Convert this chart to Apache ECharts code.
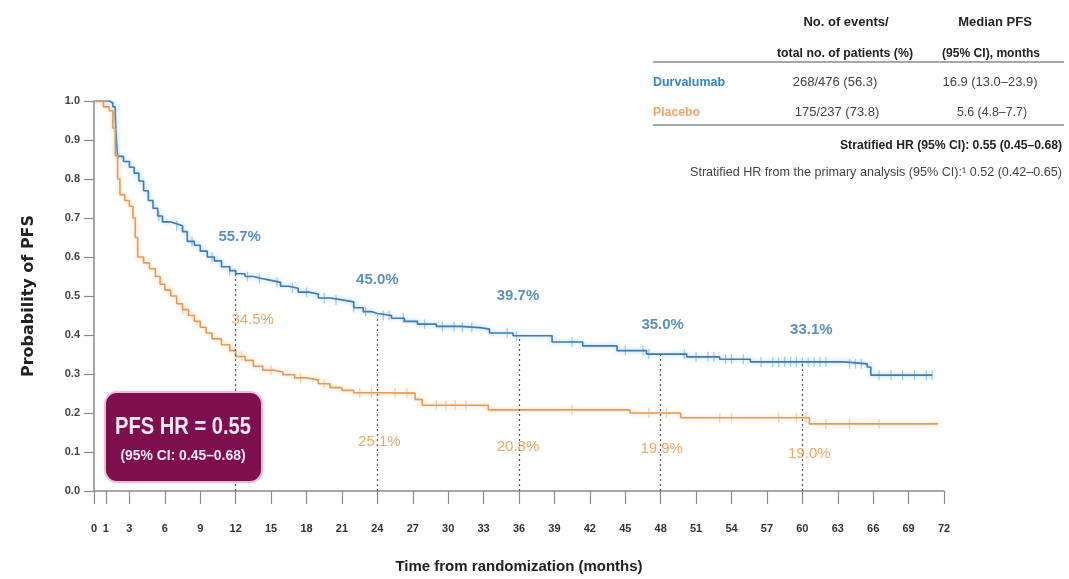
<!DOCTYPE html>
<html>
<head>
<meta charset="utf-8">
<script src="https://cdn.jsdelivr.net/npm/echarts@6/dist/echarts.min.js"></script>
<style>
html,body{margin:0;padding:0;background:#fff;}
#chart{width:1069px;height:579px;}
</style>
</head>
<body>
<div id="chart"></div>
<script>
// ---- Data ----
const timeTicks = [0,1,3,6,9,12,15,18,21,24,27,30,33,36,39,42,45,48,51,54,57,60,63,66,69,72];
const landmarks = [12,24,36,48,60];
const durvaPct = [55.7,45.0,39.7,35.0,33.1];
const placeboPct = [34.5,25.1,20.8,19.9,19.0];

// KM steps: [time (months), survival after event]
const durvaSteps = [[0,1.0],[1.3,0.995],[1.6,0.985],[1.8,0.96],[1.9,0.90],[2.0,0.858],[2.5,0.845],[3.0,0.83],[3.4,0.815],[3.8,0.795],[4.2,0.77],[4.6,0.745],[5.0,0.725],[5.4,0.705],[5.8,0.69],[6.5,0.685],[7.0,0.68],[7.5,0.665],[7.9,0.64],[8.5,0.63],[9.0,0.615],[9.6,0.60],[10.2,0.59],[10.8,0.575],[11.5,0.565],[12.0,0.557],[12.8,0.55],[13.5,0.545],[14.2,0.54],[15.0,0.535],[15.8,0.525],[16.5,0.52],[17.3,0.51],[18.2,0.505],[19.0,0.495],[20.0,0.49],[21.0,0.485],[22.0,0.47],[22.8,0.46],[23.5,0.455],[24.0,0.45],[25.2,0.443],[26.3,0.435],[27.4,0.428],[29.0,0.422],[31.0,0.419],[32.7,0.415],[33.5,0.405],[35.5,0.398],[38.8,0.382],[41.4,0.372],[44.3,0.36],[46.8,0.351],[50.2,0.344],[53.0,0.338],[55.6,0.331],[63.5,0.326],[65.5,0.318],[65.8,0.297],[71.0,0.297]];
const placeboSteps = [[0,1.0],[0.8,0.985],[1.3,0.975],[1.6,0.93],[1.8,0.86],[2.0,0.80],[2.2,0.76],[2.6,0.745],[3.0,0.73],[3.3,0.70],[3.5,0.65],[3.7,0.60],[4.2,0.585],[4.7,0.57],[5.2,0.55],[5.6,0.53],[6.0,0.515],[6.5,0.50],[7.0,0.48],[7.5,0.465],[8.0,0.45],[8.5,0.435],[9.0,0.42],[9.5,0.405],[10.0,0.39],[10.8,0.375],[11.5,0.36],[12.0,0.345],[12.8,0.335],[13.5,0.32],[14.3,0.31],[15.2,0.305],[16.0,0.298],[17.0,0.29],[18.0,0.285],[19.0,0.275],[20.0,0.265],[21.0,0.258],[22.0,0.252],[24.5,0.251],[27.2,0.235],[27.8,0.22],[33.4,0.208],[45.4,0.20],[49.7,0.188],[60.6,0.172],[71.5,0.172]];

// censoring times (months)
const durvaCensor = [5.5,7.0,8.3,10.0,11.5,13.0,14.0,15.5,16.8,18.0,19.5,20.5,22.0,23.0,24.5,25.0,26.2,28.0,29.5,30.5,31.2,32.0,35.0,35.8,40.5,45.0,46.5,47.0,50.0,51.0,52.0,52.5,53.5,54.0,55.0,56.5,57.5,58.0,58.5,59.0,59.5,60.0,60.5,61.0,61.5,62.0,64.0,64.5,65.0,66.5,67.5,68.5,69.5,70.5,71.0];
const placeboCensor = [7.5,12.5,15.0,17.5,19.5,22.5,23.5,25.5,26.5,29.0,29.8,30.6,31.5,40.5,47.0,48.5,53.0,54.0,58.0,59.5,60.3,62.0,64.0,66.5];

// ---- helpers ----
function survAt(steps, t){ let s = steps[0][1]; for (const [x,y] of steps){ if (x <= t) s = y; } return s; }

const FONT = '"Liberation Sans",Arial,sans-serif';
const BLUE_LINE = '#3d7db4', BLUE_TXT = '#2f74b0', BLUE_CENS = '#8cc3ea';
const ORG_LINE = '#e69a55', ORG_TXT = '#e8913f', ORG_CENS = '#f6c596';

const durvaLabelOffsets = [[4,-37],[0,-36],[-1,-40],[2,-30],[9,-32]];
const placeboLabelOffsets = [[17,-37],[2,49],[-1,37],[1,35],[7,37]];

// condensed text via horizontal scaling toward a target width (never stretched)
const mctx = document.createElement('canvas').getContext('2d');
function fitText(text, x, y, size, weight, targetW, align, color, z){
  const font = weight + ' ' + size + 'px ' + FONT;
  mctx.font = font;
  const w = mctx.measureText(text).width;
  const s = Math.min(1, targetW / w);
  return {type: 'text', x: x, y: y, scaleX: s, z: z || 11,
    style: {text: text, font: font, fill: color, textAlign: align, verticalAlign: 'middle'}};
}

const chart = echarts.init(document.getElementById('chart'));
const option = {
  animation: false,
  backgroundColor: '#fff',
  grid: {left: 94, right: 125, top: 101, bottom: 84, containLabel: false},
  xAxis: {
    type: 'value', min: 0, max: 72,
    axisLine: {show: true, onZero: false, lineStyle: {color: '#8a8a8a', width: 1.5}},
    axisTick: {show: true, customValues: timeTicks, length: 13, lineStyle: {color: '#8a8a8a', width: 1.2}},
    axisLabel: {customValues: timeTicks, margin: 32, fontFamily: FONT, fontSize: 11, fontWeight: 'bold', color: '#333'},
    splitLine: {show: false},
    name: 'Time from randomization (months)', nameLocation: 'middle', nameGap: 68,
    nameTextStyle: {fontFamily: FONT, fontSize: 15, fontWeight: 'bold', color: '#222'}
  },
  yAxis: {
    type: 'value', min: 0, max: 1, interval: 0.1,
    axisLine: {show: true, lineStyle: {color: '#8a8a8a', width: 1.5}},
    axisTick: {show: true, length: 10, lineStyle: {color: '#8a8a8a', width: 1.2}},
    axisLabel: {margin: 14, formatter: v => v.toFixed(1), fontFamily: FONT, fontSize: 11, fontWeight: 'bold', color: '#444'},
    splitLine: {show: false},
    name: 'Probability of PFS', nameLocation: 'middle', nameGap: 57, nameRotate: 90,
    nameTextStyle: {fontFamily: '"DejaVu Sans",sans-serif', fontSize: 16, fontWeight: 'bold', color: '#222'}
  },
  series: [
    {
      name: 'Durvalumab', type: 'line', step: 'end', data: durvaSteps, showSymbol: false, z: 4,
      lineStyle: {color: BLUE_LINE, width: 1.6, shadowColor: 'rgba(110,180,235,0.7)', shadowBlur: 4},
      markLine: {
        silent: true, symbol: 'none', label: {show: false},
        lineStyle: {color: '#555', type: [2,3], width: 1.2},
        data: landmarks.map((t,i) => [{coord: [t, 0]}, {coord: [t, durvaPct[i]/100]}])
      }
    },
    {
      name: 'Placebo', type: 'line', step: 'end', data: placeboSteps, showSymbol: false, z: 4,
      lineStyle: {color: ORG_LINE, width: 1.6, shadowColor: 'rgba(245,190,140,0.7)', shadowBlur: 4}
    },
    {
      type: 'scatter', symbol: 'rect', symbolSize: [1.3, 10], z: 3, silent: true,
      itemStyle: {color: BLUE_CENS},
      data: durvaCensor.map(t => [t, survAt(durvaSteps, t)])
    },
    {
      type: 'scatter', symbol: 'rect', symbolSize: [1.3, 10], z: 3, silent: true,
      itemStyle: {color: ORG_CENS},
      data: placeboCensor.map(t => [t, survAt(placeboSteps, t)])
    },
    {
      type: 'scatter', symbolSize: 0, z: 6, silent: true,
      data: landmarks.map((t,i) => ({value: [t, durvaPct[i]/100], label: {offset: durvaLabelOffsets[i]}})),
      label: {show: true, position: 'inside', formatter: p => durvaPct[p.dataIndex].toFixed(1) + '%',
        fontFamily: FONT, fontSize: 15, fontWeight: 'bold', color: BLUE_TXT}
    },
    {
      type: 'scatter', symbolSize: 0, z: 6, silent: true,
      data: landmarks.map((t,i) => ({value: [t, placeboPct[i]/100], label: {offset: placeboLabelOffsets[i]}})),
      label: {show: true, position: 'inside', formatter: p => placeboPct[p.dataIndex].toFixed(1) + '%',
        fontFamily: FONT, fontSize: 15, fontWeight: 'normal', color: ORG_TXT}
    }
  ],
  graphic: [
    // HR box
    {type: 'rect', shape: {x: 105, y: 392, width: 157, height: 90, r: 12}, z: 10,
      style: {fill: '#7e0f4e', stroke: '#f0b9d6', lineWidth: 2}},
    fitText('PFS HR = 0.55', 183, 427, 24, 'bold', 136, 'center', '#fce8f3'),
    fitText('(95% CI: 0.45–0.68)', 183, 456, 14, 'bold', 125, 'center', '#fce8f3'),
    // table
    fitText('No. of events/', 846, 22, 13, 'bold', 87, 'center', '#222'),
    fitText('total no. of patients (%)', 845, 53, 13, 'bold', 136, 'center', '#222'),
    fitText('Median PFS', 995, 22, 13, 'bold', 75, 'center', '#222'),
    fitText('(95% CI), months', 991, 53, 13, 'bold', 98, 'center', '#222'),
    {type: 'line', shape: {x1: 653, y1: 62, x2: 1064, y2: 62}, style: {stroke: '#8a8a8a', lineWidth: 1.5}},
    fitText('Durvalumab', 653, 82, 13, 'bold', 72, 'left', '#2f86c8'),
    fitText('268/476 (56.3)', 835, 82, 13, 'normal', 95, 'center', '#444'),
    fitText('16.9 (13.0–23.9)', 990, 82, 13, 'normal', 95, 'center', '#444'),
    fitText('Placebo', 653, 112, 13, 'bold', 47, 'left', '#f2a46a'),
    fitText('175/237 (73.8)', 837, 112, 13, 'normal', 95, 'center', '#444'),
    fitText('5.6 (4.8–7.7)', 992, 112, 13, 'normal', 70, 'center', '#444'),
    {type: 'line', shape: {x1: 653, y1: 125, x2: 1064, y2: 125}, style: {stroke: '#8a8a8a', lineWidth: 1.5}},
    fitText('Stratified HR (95% CI): 0.55 (0.45–0.68)', 1062, 145, 13, 'bold', 222, 'right', '#222'),
    fitText('Stratified HR from the primary analysis (95% CI):¹ 0.52 (0.42–0.65)', 1062, 172, 13, 'normal', 372, 'right', '#444')
  ]
};
chart.setOption(option);
</script>
</body>
</html>
